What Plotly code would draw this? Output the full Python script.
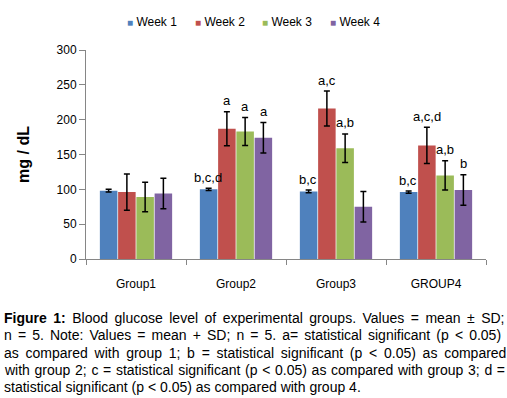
import plotly.graph_objects as go

groups = ["Group1", "Group2", "Group3", "GROUP4"]
weeks = ["Week 1", "Week 2", "Week 3", "Week 4"]
colors = ["#4F81BD", "#C0504D", "#9BBB59", "#8064A2"]

means = {
    "Week 1": [98, 100, 97, 96],
    "Week 2": [96, 187, 216, 163],
    "Week 3": [89, 183, 159, 120],
    "Week 4": [94, 174, 75, 99],
}
sds = {
    "Week 1": [2, 1.5, 2, 1.5],
    "Week 2": [26, 24.5, 25, 26],
    "Week 3": [21, 20, 20.5, 21],
    "Week 4": [22, 22, 22, 22],
}
labels = {
    "Week 1": ["", "b,c,d", "b,c", "b,c"],
    "Week 2": ["", "a", "a,c", "a,c,d"],
    "Week 3": ["", "a", "a,b", "a,b"],
    "Week 4": ["", "a", "", "b"],
}

caption_lines = [
    "<b>Figure 1:</b> Blood glucose level of experimental groups. Values = mean ± SD;",
    "n = 5. Note: Values = mean + SD; n = 5. a= statistical significant (p < 0.05)",
    "as compared with group 1; b = statistical significant (p < 0.05) as compared",
    "with group 2; c = statistical significant (p < 0.05) as compared with group 3; d =",
    "statistical significant (p < 0.05) as compared with group 4.",
]
word_spacing = [2.6, 2.2, 2.85, 0.78, 0]

FONT = "Liberation Sans, Arial"

fig = go.Figure()
for w, c in zip(weeks, colors):
    fig.add_trace(go.Bar(
        name=w, x=groups, y=means[w], marker=dict(color=c, line=dict(width=0)),
        error_y=dict(type="data", array=sds[w], visible=True, color="black",
                     thickness=1.5, width=3),
        showlegend=False,
    ))

offsets = [-0.28, -0.095, 0.09, 0.275]
for i, w in enumerate(weeks):
    for j, g in enumerate(groups):
        if labels[w][j]:
            fig.add_annotation(
                x=j + offsets[i], y=means[w][j] + sds[w][j], xref="x", yref="y",
                text=labels[w][j], showarrow=False, yanchor="middle", yshift=11,
                font=dict(family=FONT, size=13, color="black"),
            )

# legend: compact key row (square glyph + series name)
legend_y = (259 - 22) / 209
for k, (w, c) in enumerate(zip(weeks, colors)):
    fig.add_annotation(
        x=(125.0 + 67.5 * k - 86) / 400, y=legend_y, xref="paper", yref="paper",
        xanchor="left", yanchor="middle", showarrow=False,
        text=f'<span style="color:{c};font-size:10px">■</span> {w}',
        font=dict(family=FONT, size=12, color="black"),
    )

line_h = 17.3
for k, (ln, ws) in enumerate(zip(caption_lines, word_spacing)):
    fig.add_annotation(
        x=-0.21, y=(259 - 318 - k * line_h) / 209, xref="paper", yref="paper",
        xanchor="left", yanchor="middle",
        text=f'<span style="word-spacing:{ws}px">{ln}</span>',
        showarrow=False, align="left",
        font=dict(family=FONT, size=14, color="black"),
    )

fig.update_layout(
    width=507, height=398,
    margin=dict(l=86, r=21, t=50, b=139, autoexpand=False),
    paper_bgcolor="white", plot_bgcolor="white",
    barmode="group", bargap=0.27, bargroupgap=0.04,
    font=dict(family=FONT, size=12, color="black"),
    showlegend=False,
    xaxis=dict(showline=True, linecolor="#868686", linewidth=1, ticks="outside",
               tickson="boundaries", ticklen=5, tickcolor="#868686",
               tickfont=dict(size=12), ticklabelstandoff=14),
    yaxis=dict(range=[0, 300], dtick=50, showline=True, linecolor="#868686",
               linewidth=1, ticks="outside", ticklen=6, tickcolor="#868686",
               showgrid=False, zeroline=False, tickfont=dict(size=12),
               title=dict(text="<b>mg / dL</b>", font=dict(size=16), standoff=22)),
)

fig.write_html("out.html", config={"displayModeBar": False},
               post_script="document.body.style.margin='0';")
